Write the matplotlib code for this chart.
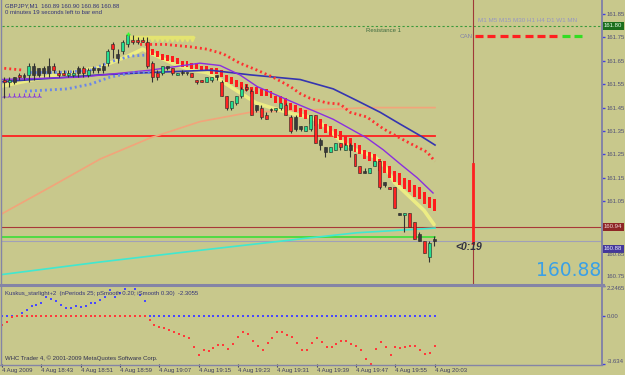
import matplotlib
matplotlib.use("Agg")
import matplotlib.pyplot as plt
import matplotlib.transforms as mtransforms
from matplotlib.patches import Rectangle
from matplotlib.lines import Line2D

plt.rcParams['font.family'] = ['Liberation Sans', 'DejaVu Sans']

W, H = 625, 375
BG = '#c8c88c'

# ---------------- data ----------------
header_line1 = "GBPJPY,M1  160.89 160.90 160.86 160.88"
header_line2 = "0 minutes 19 seconds left to bar end"
indicator_title = "Kuskus_starlight+2  (nPeriods 25; pSmooth 0.20; iSmooth 0.30)  -2.3055"
copyright_text = "WHC Trader 4, \u00a9 2001-2009 MetaQuotes Software Corp."
timeframes_text = "M1 M5 M15 M30 H1 H4 D1 W1 MN"
time_tick_bars = [0, 8, 16, 24, 32, 40, 48, 56, 64, 72, 80, 88]
time_tick_labels = ["4 Aug 2009", "4 Aug 18:43", "4 Aug 18:51", "4 Aug 18:59",
                    "4 Aug 19:07", "4 Aug 19:15", "4 Aug 19:23", "4 Aug 19:31",
                    "4 Aug 19:39", "4 Aug 19:47", "4 Aug 19:55", "4 Aug 20:03"]
price_ticks = [161.85, 161.75, 161.65, 161.55, 161.45, 161.35, 161.25, 161.15, 161.05]
low_price_labels = [160.85, 160.75]
ind_ticks = [2.2465, 0.0, -3.634]
ind_tick_labels = ["2.2465", "0.00", "-3.634"]

opens = [161.57,161.57,161.56,161.58,161.59,161.59,161.59,161.63,161.62,161.62,
         161.63,161.63,161.60,161.60,161.59,161.59,161.62,161.62,161.59,161.62,
         161.62,161.63,161.64,161.72,161.68,161.69,161.72,161.74,161.74,161.74,
         161.73,161.64,161.60,161.60,161.63,161.62,161.59,161.60,161.60,161.60,
         161.57,161.57,161.56,161.57,161.59,161.56,161.50,161.45,161.47,161.50,
         161.54,161.52,161.46,161.45,161.42,161.44,161.44,161.45,161.46,161.41,
         161.41,161.37,161.35,161.36,161.42,161.31,161.28,161.26,161.27,161.30,
         161.27,161.29,161.25,161.20,161.18,161.17,161.20,161.22,161.13,161.11,
         161.11,161.00,160.99,161.00,160.96,160.91,160.88,160.81,160.89]
highs = [161.58,161.58,161.58,161.58,161.60,161.60,161.64,161.64,161.62,161.63,
         161.66,161.64,161.61,161.61,161.61,161.61,161.63,161.63,161.62,161.63,
         161.62,161.64,161.70,161.73,161.70,161.74,161.77,161.76,161.75,161.75,
         161.75,161.65,161.61,161.63,161.63,161.62,161.60,161.61,161.60,161.60,
         161.57,161.57,161.58,161.58,161.59,161.57,161.50,161.48,161.50,161.54,
         161.55,161.53,161.46,161.46,161.43,161.45,161.45,161.47,161.47,161.42,
         161.42,161.37,161.37,161.42,161.42,161.32,161.28,161.28,161.30,161.30,
         161.30,161.30,161.25,161.20,161.19,161.19,161.22,161.22,161.13,161.11,
         161.11,161.00,161.00,161.00,160.96,160.92,160.88,160.88,160.90]
lows = [161.52,161.49,161.54,161.55,161.57,161.57,161.56,161.57,161.58,161.58,
        161.58,161.60,161.58,161.59,161.58,161.58,161.58,161.58,161.58,161.60,
        161.60,161.60,161.63,161.66,161.64,161.68,161.71,161.72,161.72,161.73,
        161.62,161.56,161.57,161.59,161.61,161.59,161.59,161.59,161.59,161.58,
        161.55,161.56,161.56,161.56,161.57,161.50,161.44,161.44,161.46,161.49,
        161.52,161.42,161.43,161.40,161.40,161.43,161.43,161.44,161.42,161.34,
        161.35,161.35,161.35,161.35,161.30,161.27,161.24,161.26,161.27,161.27,
        161.27,161.24,161.20,161.17,161.17,161.17,161.20,161.10,161.11,161.10,
        161.02,160.99,160.92,160.94,160.89,160.88,160.83,160.79,160.86]
closes = [161.56,161.56,161.57,161.56,161.58,161.58,161.63,161.59,161.59,161.60,
          161.60,161.61,161.59,161.59,161.60,161.60,161.60,161.60,161.61,161.61,
          161.61,161.61,161.69,161.70,161.66,161.73,161.76,161.73,161.73,161.73,
          161.63,161.58,161.58,161.63,161.62,161.60,161.60,161.60,161.60,161.58,
          161.56,161.56,161.58,161.58,161.58,161.50,161.45,161.48,161.50,161.53,
          161.53,161.42,161.44,161.41,161.40,161.44,161.45,161.47,161.42,161.35,
          161.36,161.36,161.37,161.42,161.30,161.29,161.26,161.28,161.30,161.28,
          161.29,161.27,161.20,161.17,161.17,161.19,161.22,161.11,161.12,161.10,
          161.02,160.99,161.00,160.94,160.89,160.88,160.83,160.87,160.88]
kinds = list("rrgkrkgkkkkrrrggkrgkkkgrkggrrrrrrgkrgkkrrrggkrrgggrrkrrkggrrkkggrkkggrgkrrkggrkrrkgrrkrgk")

# red step-band bars above price (bars 30..88)
band_bars = list(range(30, 89))
band_hi = [161.72,161.70,161.69,161.68,161.675,161.67,161.66,161.65,161.65,161.64,
           161.64,161.63,161.63,161.62,161.62,161.61,161.59,161.58,161.57,161.56,
           161.55,161.54,161.54,161.53,161.53,161.52,161.50,161.50,161.49,161.47,
           161.46,161.45,161.44,161.42,161.41,161.40,161.38,161.37,161.36,161.35,
           161.33,161.32,161.30,161.29,161.27,161.26,161.25,161.23,161.22,161.20,
           161.18,161.17,161.15,161.14,161.12,161.11,161.09,161.07,161.06]
band_lo = [161.695,161.675,161.665,161.655,161.65,161.645,161.635,161.625,161.625,161.615,
           161.615,161.605,161.605,161.595,161.595,161.58,161.56,161.55,161.54,161.53,
           161.52,161.51,161.51,161.50,161.50,161.49,161.47,161.47,161.46,161.44,
           161.43,161.41,161.40,161.38,161.37,161.36,161.34,161.33,161.32,161.31,
           161.29,161.28,161.26,161.25,161.23,161.22,161.20,161.18,161.17,161.15,
           161.13,161.12,161.10,161.09,161.07,161.06,161.04,161.02,161.01]

yellow_x = [0, 7, 14, 20, 26, 29, 32, 35, 39, 42, 44, 46, 49, 52, 55, 60, 63, 66, 69, 72, 76, 78, 80, 83, 86, 88]
yellow_y = [161.54,161.57,161.60,161.62,161.67,161.70,161.67,161.64,161.61,161.60,161.58,161.55,161.51,
            161.47,161.45,161.42,161.41,161.37,161.31,161.27,161.24,161.20,161.13,161.07,161.01,160.95]
saw_x = list(range(26, 40))
saw_level = 161.75

purple_x = [0, 16.3, 30.5, 40.6, 44.7, 48.7, 52.2, 55.4, 60.9, 64.3, 67.6, 71.0, 74.4, 77.7, 81.1, 84.6, 87.8]
purple_y = [161.57,161.58,161.61,161.64,161.63,161.59,161.54,161.51,161.46,161.43,161.40,161.36,161.32,161.27,161.21,161.15,161.085]

navy_x = [0, 20.4, 30.5, 42.7, 50.8, 60.9, 67.6, 72.4, 77.1, 81.1, 85.2, 88.2]
navy_y = [161.56,161.59,161.60,161.61,161.59,161.57,161.53,161.48,161.43,161.38,161.33,161.29]

reddot_left_x = [0, 5]
reddot_left_y = [161.62, 161.61]
reddot_x = [28.5, 33.6, 38.6, 42.0, 45.3, 48.7, 52.2, 55.4, 58.9, 60.9, 62.9, 66.3, 69.0, 71.0, 74.4, 77.7, 81.1, 83.8, 86.6, 88.2]
reddot_y = [161.72,161.72,161.71,161.70,161.68,161.64,161.61,161.58,161.54,161.51,161.49,161.47,161.465,
            161.43,161.41,161.36,161.32,161.29,161.26,161.22]

bluedot_low_x = [5.2, 13.7, 18.4, 22.4, 27.1, 30.5]
bluedot_low_y = [161.52, 161.53, 161.55, 161.58, 161.60, 161.60]
bluedot_up_x = [6.2, 12.3, 18.4, 22.4, 26.5, 29.9]
bluedot_up_y = [161.60, 161.60, 161.61, 161.645, 161.67, 161.675]

orange_x = [0, 10.3, 20.4, 30.5, 40.6, 50.8, 62.9, 75.0, 88.2]
orange_y = [160.99, 161.11, 161.23, 161.32, 161.39, 161.43, 161.44, 161.45, 161.45]

cyan_x = [0, 20.4, 40.6, 61.5, 72.4, 88.2]
cyan_y = [160.735, 160.79, 160.84, 160.89, 160.915, 160.935]

green_level = 160.895
resistance_level = 161.80
red_level = 161.33
last_close_level = 160.94
bid_level = 160.88
future_bar = 95.9
red_seg = (161.21, 160.87)

can_states = ['dn'] * 7 + ['up'] * 2

ind_blue = [0, 0, 0, 0, 0.2, 0.4, 0.75, 0.83, 1.0, 1.45, 1.25, 1.08, 0.83, 0.62, 0.58, 0.75, 0.7, 0.77,
            0.95, 1.0, 1.2, 1.4, 1.95, 1.4, 1.75, 2.05, 2.2465, 2.0, 1.6, 1.08] + [0] * 59
ind_red = [-0.68, -0.43, -0.1, -0.02] + [0] * 26 + [
    -0.35, -0.68, -0.88, -0.93, -1.05, -1.23, -1.38, -1.55, -1.68, -2.38,
    -2.98, -2.56, -2.68, -2.43, -2.18, -2.18, -2.5, -2.1, -1.6, -1.23,
    -1.38, -1.93, -2.26, -2.56, -2.05, -1.68, -1.23, -1.23, -1.43, -1.63,
    -2.05, -2.6, -2.6, -2.05, -1.68, -1.98, -2.38, -2.38, -2.1, -1.93,
    -1.88, -2.1, -2.3, -2.6, -3.25, -3.634, -2.5, -2.0, -2.38, -2.93,
    -2.38, -2.46, -2.38, -2.3, -2.3, -2.6, -2.86, -2.8, -2.3055]

# ---------------- figure ----------------
fig = plt.figure(figsize=(6.25, 3.75), dpi=100)
fig.patch.set_facecolor(BG)


def fx(x):
    return x / W


def fy(y):
    return 1 - y / H


XL = (0.55, 122.0)
ax = fig.add_axes([fx(2), fy(284), 600 / W, 284 / H])
ax.set_facecolor(BG)
ax.set_xlim(*XL)
ax.set_ylim(160.696, 161.910)
for s in ax.spines.values():
    s.set_visible(False)
ax.set_xticks([])
ax.yaxis.tick_right()
ax.set_yticks(price_ticks)
ax.set_yticklabels([f"{p:.2f}" for p in price_ticks])
ax.tick_params(axis='y', length=2, width=1, color='#4040e0', labelsize=4.3,
               labelcolor='#505078', pad=1.5)

# horizontal levels
ax.axhline(resistance_level, color='#3c9a3c', lw=0.8, ls=(0, (2, 2)), zorder=1)
ax.axhline(last_close_level, color='#a83838', lw=0.8, zorder=1)
ax.axhline(bid_level, color='#a0a0b8', lw=0.8, zorder=1)
ax.plot([0, 88.2], [red_level, red_level], color='#ff2020', lw=1.3, zorder=2)
ax.plot([0, 88.2], [green_level, green_level], color='#30e030', lw=1.1, zorder=2)

# vertical lines
ax.axvline(future_bar, color='#a03838', lw=0.8, zorder=1)
ax.plot([future_bar, future_bar], list(red_seg), color='#ff2020', lw=2.0, zorder=2)

# moving averages
ax.plot(orange_x, orange_y, color='#f2a47a', lw=1.2, zorder=2)
ax.plot(cyan_x, cyan_y, color='#40e8d0', lw=1.2, zorder=2)
ax.plot(yellow_x, yellow_y, color='#ecec84', lw=2.6, zorder=3, solid_capstyle='round')
ax.plot(saw_x, [saw_level] * len(saw_x), color='#e4e470', lw=2.5, zorder=3)
ax.plot(saw_x, [saw_level - 0.008] * len(saw_x), ls='none', marker='v', ms=3.5,
        color='#e4e470', zorder=3)

# red step band
for b, hi, lo in zip(band_bars, band_hi, band_lo):
    ax.add_patch(Rectangle((b - 0.3, lo), 0.6, hi - lo, facecolor='#ff1c1c',
                           edgecolor='none', zorder=4))

ax.plot(navy_x, navy_y, color='#3535b0', lw=1.2, zorder=4)
ax.plot(purple_x, purple_y, color='#8a2ee0', lw=1.0, zorder=4)

dot = (0, (0.7, 1.1))
ax.plot(reddot_x, reddot_y, color='#ff3030', lw=2.0, ls=dot, zorder=4)
ax.plot(reddot_left_x, reddot_left_y, color='#ff3030', lw=2.0, ls=dot, zorder=4)
ax.plot(bluedot_low_x, bluedot_low_y, color='#6a86ea', lw=2.0, ls=dot, zorder=4)
ax.plot(bluedot_up_x, bluedot_up_y, color='#6a86ea', lw=2.0, ls=dot, zorder=4)
ax.plot(list(range(1, 9)), [161.50] * 8, ls='none', marker='2', ms=4, mew=0.8,
        color='#8a40d8', zorder=4)
ax.plot([26], [161.765], ls='none', marker='+', ms=3.5, mew=1, color='#30ff30', zorder=7)

# candles
col = {'g': '#22dd90', 'r': '#ff2222', 'k': '#3a3a3a'}
for i, (o, h, l, c, k) in enumerate(zip(opens, highs, lows, closes, kinds)):
    ax.plot([i, i], [l, h], color='#333333', lw=0.8, zorder=5, solid_capstyle='butt')
    lo_b = min(o, c)
    hgt = max(abs(c - o), 0.004)
    ax.add_patch(Rectangle((i - 0.3, lo_b), 0.6, hgt, facecolor=col[k],
                           edgecolor='#262626', lw=0.4, zorder=6))

# right-axis boxes
ytr = ax.get_yaxis_transform()
ax.text(1.003, resistance_level, "161.80", transform=ytr, fontsize=4.3, color='#e8ffe8',
        va='center', ha='left', bbox=dict(boxstyle='square,pad=0.25', fc='#1c6e1c', ec='none'),
        clip_on=False)
ax.text(1.003, last_close_level, "160.94", transform=ytr, fontsize=4.3, color='#f0d8d8',
        va='center', ha='left', bbox=dict(boxstyle='square,pad=0.25', fc='#8e2626', ec='none'),
        clip_on=False)
off8 = mtransforms.offset_copy(ytr, fig=fig, x=0, y=-8, units='dots')
ax.text(1.003, bid_level, "160.88", transform=off8, fontsize=4.3, color='#ececff',
        va='center', ha='left', bbox=dict(boxstyle='square,pad=0.25', fc='#44389a', ec='none'),
        clip_on=False)
for p, dy in zip(low_price_labels, [-7, -5]):
    tr = mtransforms.offset_copy(ytr, fig=fig, x=5, y=dy, units='dots')
    ax.text(1.0, p, f"{p:.2f}", transform=tr, fontsize=4.3, color='#505078',
            va='center', ha='left', clip_on=False)

# ---------------- indicator panel ----------------
ax2 = fig.add_axes([fx(2), fy(364), 600 / W, 78 / H])
ax2.set_facecolor(BG)
ax2.set_xlim(*XL)
ax2.set_ylim(-3.634, 2.2465)
for s in ax2.spines.values():
    s.set_visible(False)
bars = list(range(len(ind_blue)))
ax2.plot(bars, ind_blue, ls='none', marker='s', ms=2.0, mew=0, color='#4848ff', zorder=3)
ax2.plot(bars, ind_red, ls='none', marker='s', ms=2.0, mew=0, color='#ff3a3a', zorder=3)
ax2.yaxis.tick_right()
ax2.set_yticks(ind_ticks)
ax2.set_yticklabels(ind_tick_labels)
ax2.tick_params(axis='y', length=2, width=1, color='#4040e0', labelsize=4.3,
                labelcolor='#505078', pad=1.5)
tl = ax2.get_yticklabels()
tl[0].set_va('top')
tl[-1].set_va('bottom')
ax2.set_xticks(time_tick_bars)
ax2.set_xticklabels(time_tick_labels, fontsize=4.3, color='#404060', ha='left')
ax2.tick_params(axis='x', length=2, width=0.8, color='#404060', pad=1)

# ---------------- frame ----------------
frame_c = '#8484a6'
fig.add_artist(Line2D([fx(0), fx(603)], [fy(285), fy(285)], color=frame_c, lw=2.2))
fig.add_artist(Line2D([fx(602), fx(602)], [fy(0), fy(365)], color=frame_c, lw=1.4))
fig.add_artist(Line2D([fx(0), fx(602)], [fy(364.5), fy(364.5)], color=frame_c, lw=1.0))
fig.add_artist(Line2D([fx(1), fx(1)], [fy(0), fy(365)], color=frame_c, lw=1.0))

# ---------------- texts ----------------
txt_c = '#343478'
fig.text(fx(5), fy(5.5), header_line1, fontsize=4.3, color=txt_c, va='center', ha='left')
fig.text(fx(5), fy(13), header_line2, fontsize=4.3, color=txt_c, va='center', ha='left')
fig.text(fx(366), fy(31), "Resistance 1", fontsize=4.3, color='#3e6a3e', va='center', ha='left')
fig.text(fx(478), fy(21), timeframes_text, fontsize=4.5, color='#9696c2', va='center', ha='left')
fig.text(fx(460), fy(36), "CAN", fontsize=4.5, color='#8484a8', va='center', ha='left')
for k, st in enumerate(can_states):
    x0 = 475 + k * 12.4
    fig.add_artist(Line2D([fx(x0), fx(x0 + 8)], [fy(35.5), fy(35.5)], lw=2.3,
                          color='#ff2020' if st == 'dn' else '#33dd22', solid_capstyle='butt'))
fig.text(fx(455), fy(247.5), "<0:19", fontsize=7.5, fontweight='bold', style='italic',
         color='#303040', va='center', ha='left')
fig.text(fx(536), fy(270), "160.88", fontsize=13.5, color='#3aa0e6', va='center', ha='left',
         family='DejaVu Sans')
fig.text(fx(5), fy(293), indicator_title, fontsize=4.3, color=txt_c, va='center', ha='left')
fig.text(fx(5), fy(358.5), copyright_text, fontsize=4.3, color='#303050', va='center', ha='left')

fig.savefig("out.png", dpi=100, facecolor=BG)
